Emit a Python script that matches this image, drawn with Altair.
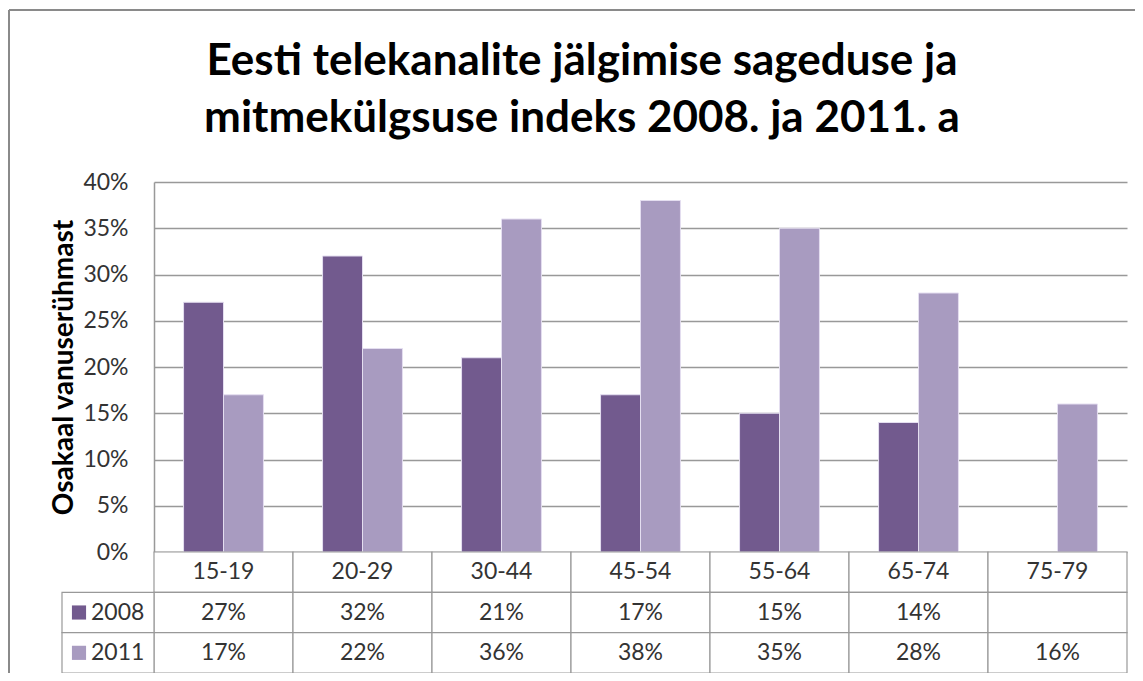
import altair as alt
import pandas as pd

# ---- data ----
ages = ["15-19", "20-29", "30-44", "45-54", "55-64", "65-74", "75-79"]
years = ["2008", "2011"]
v2008 = [27, 32, 21, 17, 15, 14, None]
v2011 = [17, 22, 36, 38, 35, 28, 16]
colors = ["#725a8e", "#a89bc0"]
y_ticks = [0, 0.05, 0.10, 0.15, 0.20, 0.25, 0.30, 0.35, 0.40]
title_lines = ["Eesti telekanalite jälgimise sageduse ja",
               "mitmekülgsuse indeks 2008. ja 2011. a"]
y_title = "Osakaal vanuserühmast"
rows = ["hdr", "2008", "2011"]

FONT = "Lato"
FS = 23
LINE = "#999999"

series = {"2008": v2008, "2011": v2011}
bar_rows = []
for yr in years:
    for a, v in zip(ages, series[yr]):
        if v is not None:
            bar_rows.append({"age": a, "year": yr, "value": v / 100})
bars_df = pd.DataFrame(bar_rows)

tab_rows = []
for a in ages:
    tab_rows.append({"age": a, "row": "hdr", "label": a})
for yr in years:
    for a, v in zip(ages, series[yr]):
        tab_rows.append({"age": a, "row": yr, "label": "" if v is None else f"{v}%"})
table_df = pd.DataFrame(tab_rows)
legend_df = pd.DataFrame({"row": years, "year": years})

x_scale = alt.Scale(domain=ages, range=[145, 1118], paddingInner=0, paddingOuter=0)
row_scale = alt.Scale(domain=rows, range=[542, 663], paddingInner=0, paddingOuter=0)
color_scale = alt.Scale(domain=years, range=colors)

bars = alt.Chart(bars_df).mark_bar(stroke="#e4def0", strokeWidth=1).encode(
    x=alt.X("age:N", scale=x_scale, axis=None, sort=ages),
    xOffset=alt.XOffset("year:N", scale=alt.Scale(domain=years, paddingInner=0, paddingOuter=0.74)),
    y=alt.Y("value:Q", scale=alt.Scale(domain=[0, 0.4], range=[542, 172], nice=False, zero=True),
            axis=alt.Axis(values=y_ticks, format=".0%", offset=-145, ticks=False,
                          domainColor=LINE, domainWidth=1.5,
                          grid=True, gridColor=LINE, gridWidth=1.5,
                          labelFont=FONT, labelFontSize=FS, labelColor="#333333", labelPadding=26,
                          title=y_title, titleFont=FONT, titleFontSize=28, titleFontWeight="bold",
                          titleColor="#000000", titlePadding=4)),
    color=alt.Color("year:N", scale=color_scale, legend=None),
)

cells = alt.Chart(table_df).mark_rect(fill="white", stroke=LINE, strokeWidth=1.2).encode(
    x=alt.X("age:N", scale=x_scale, axis=None, sort=ages),
    y=alt.Y("row:N", scale=row_scale, axis=None, sort=rows),
)
cell_text = alt.Chart(table_df).mark_text(font=FONT, fontSize=FS, color="#333333").encode(
    x=alt.X("age:N", scale=x_scale, axis=None, sort=ages),
    y=alt.Y("row:N", scale=row_scale, axis=None, sort=rows),
    text="label:N",
)
leg_cells = alt.Chart(legend_df).mark_rect(fill="white", stroke=LINE, strokeWidth=1.2).encode(
    x=alt.value(53), x2=alt.value(145),
    y=alt.Y("row:N", scale=row_scale, axis=None, sort=rows),
)
leg_sq = alt.Chart(legend_df).mark_square(size=200, opacity=1).encode(
    x=alt.value(70),
    y=alt.Y("row:N", scale=row_scale, axis=None, sort=rows),
    color=alt.Color("year:N", scale=color_scale, legend=None),
)
leg_txt = alt.Chart(legend_df).mark_text(font=FONT, fontSize=FS, color="#333333", align="left").encode(
    x=alt.value(82),
    y=alt.Y("row:N", scale=row_scale, axis=None, sort=rows),
    text="year:N",
)
table = alt.layer(cells, cell_text, leg_cells, leg_sq, leg_txt)

title = alt.Chart(pd.DataFrame({"k": [0]})).mark_text(
    text=title_lines, font=FONT, fontSize=44, fontWeight="bold", color="#000000",
    align="center", baseline="alphabetic", lineHeight=57,
).encode(x=alt.value(573), y=alt.value(65))

frame_df = pd.DataFrame({"k": [0]})
frame_left = alt.Chart(frame_df).mark_rule(color="#8a8a8a", strokeWidth=2).encode(
    x=alt.value(0), y=alt.value(0), y2=alt.value(800))
frame_top = alt.Chart(frame_df).mark_rule(color="#8a8a8a", strokeWidth=2).encode(
    y=alt.value(0), x=alt.value(0), x2=alt.value(1300))

chart = alt.layer(bars, table, title, frame_left, frame_top).resolve_scale(y="independent").properties(
    width=1126, height=663,
    autosize=alt.AutoSizeParams(type="none"),
    padding={"left": 1, "top": 2, "right": 0, "bottom": 0},
).configure_view(strokeWidth=0).configure(background="white")

chart.save("out.html", embed_options={"renderer": "svg", "actions": False})
